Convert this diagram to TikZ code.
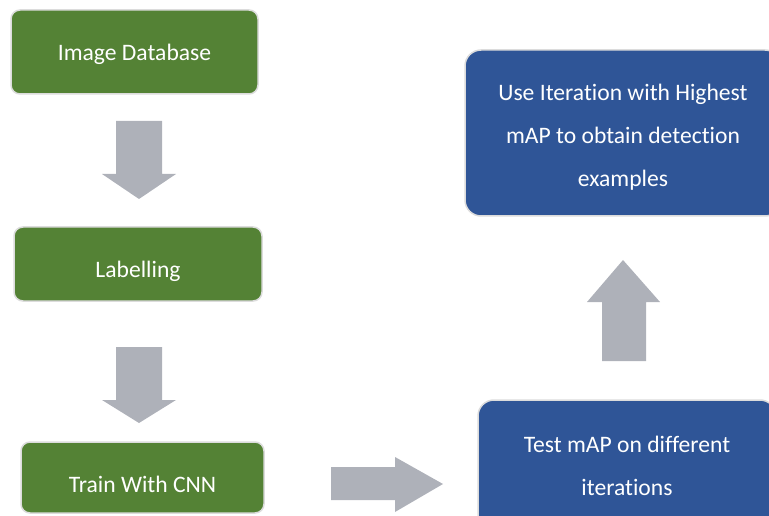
\documentclass[tikz,border=0pt]{standalone}
\usepackage{fontspec}
\setmainfont{Carlito}[Ligatures=CommonOff]
\usetikzlibrary{positioning}

\definecolor{boxgreen}{HTML}{548235}
\definecolor{boxblue}{HTML}{2F5597}
\definecolor{boxedge}{HTML}{DCDCDC}
\definecolor{arrowgray}{HTML}{AEB1B9}

\tikzset{
    flowbox/.style={rectangle, draw=boxedge, line width=1.5pt, text=white,
        inner sep=0pt, align=center, font=\fontsize{23.6}{43}\selectfont},
    greenbox/.style={flowbox, fill=boxgreen, rounded corners=9pt, text depth=0pt},
    bluebox/.style={flowbox, fill=boxblue, rounded corners=16pt},
    blockarrow/.style={fill=arrowgray}
}

\begin{document}
\begin{tikzpicture}[x=1pt, y=1pt]

    \clip (0,0) rectangle (769,515);

    % Left column
    \node[greenbox, minimum width=247pt, minimum height=84pt, text height=16.8pt] (database) at (134.5,463) {Image Database};
    \node[greenbox, minimum width=248pt, minimum height=74pt, text height=27.2pt] (labelling) at (138,251) {Labelling};
    \node[greenbox, minimum width=243pt, minimum height=71pt, text height=29.6pt] (train) at (142.5,37.5) {Train With CNN};

    % Right column
    \node[bluebox, minimum width=298pt, minimum height=132pt] (test) at (627,49) {Test mAP on different\\iterations};
    \node[bluebox, minimum width=316pt, minimum height=166pt] (best) at (623,382) {\rule{0pt}{25pt}Use Iteration with Highest\\mAP to obtain detection\\examples};

    % Down arrows
    \foreach \top/\base/\tip in {394/341/316, 168/115/92} {
        \fill[blockarrow] (116,\top) -- (162,\top) -- (162,\base) -- (176,\base)
            -- (139,\tip) -- (102,\base) -- (116,\base) -- cycle;
    }

    % Right arrow
    \fill[blockarrow] (331,48) -- (395,48) -- (395,58) -- (443,31)
        -- (395,3) -- (395,15) -- (331,15) -- cycle;

    % Up arrow
    \fill[blockarrow] (602,154) -- (602,213) -- (587,213) -- (623,255)
        -- (660,213) -- (646,213) -- (646,154) -- cycle;

\end{tikzpicture}
\end{document}
